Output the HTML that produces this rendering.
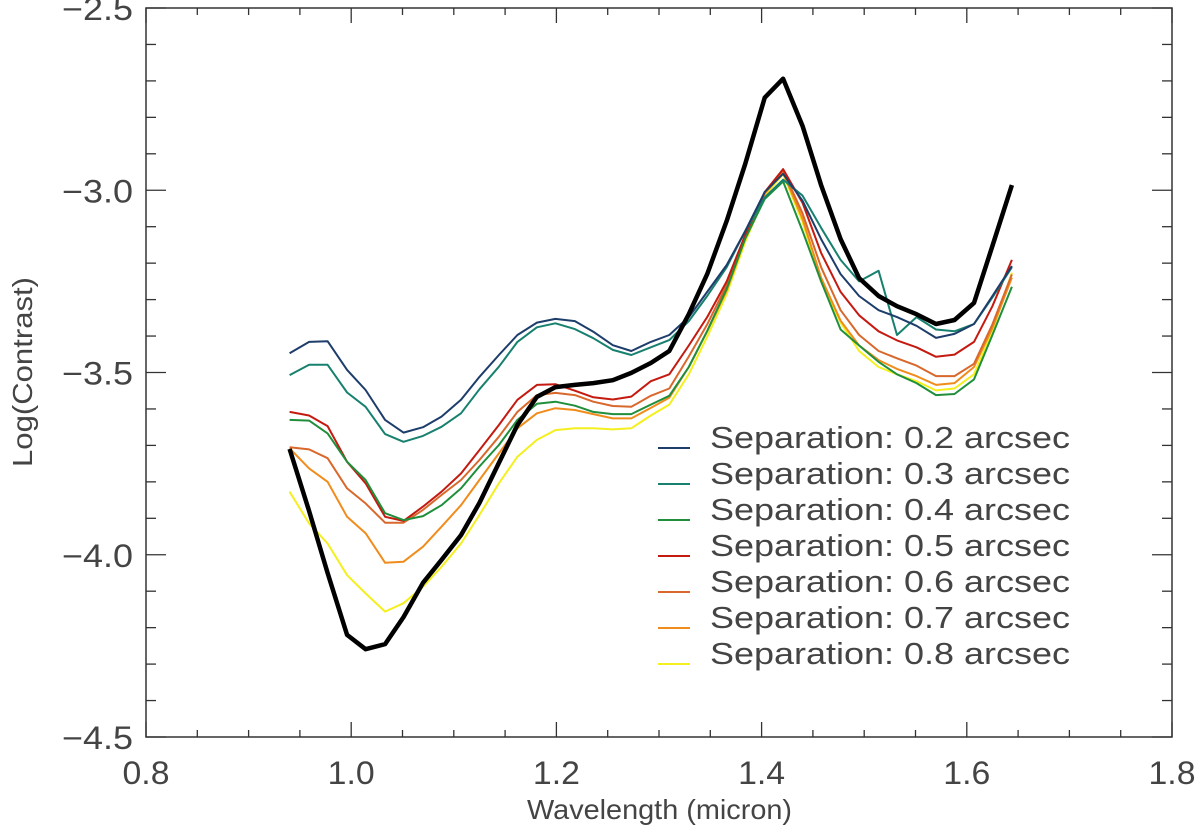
<!DOCTYPE html>
<html><head><meta charset="utf-8"><style>
html,body{margin:0;padding:0;background:#fff;}
svg{display:block;}
text{font-family:"Liberation Sans",sans-serif;fill:#444;font-weight:normal;}
</style></head><body>
<svg id="chart" width="1200" height="836" viewBox="0 0 1200 836" xmlns="http://www.w3.org/2000/svg">
<g id="axes"></g>
<g id="series"></g>
<g id="legend"></g>
</svg>
<script>
const wavelengths=[0.940,0.959,0.977,0.996,1.014,1.033,1.051,1.070,1.088,1.107,1.125,1.144,1.162,1.181,1.199,1.218,1.236,1.255,1.273,1.292,1.310,1.329,1.347,1.366,1.384,1.403,1.421,1.440,1.458,1.477,1.495,1.514,1.532,1.551,1.570,1.588,1.607,1.625,1.644];
const sep02=[-3.447,-3.416,-3.414,-3.493,-3.548,-3.630,-3.665,-3.650,-3.621,-3.575,-3.512,-3.452,-3.397,-3.363,-3.353,-3.359,-3.388,-3.425,-3.441,-3.416,-3.397,-3.348,-3.279,-3.205,-3.112,-3.005,-2.955,-3.029,-3.134,-3.230,-3.290,-3.329,-3.348,-3.372,-3.405,-3.394,-3.367,-3.290,-3.208];
const sep03=[-3.507,-3.479,-3.479,-3.555,-3.594,-3.669,-3.690,-3.674,-3.649,-3.612,-3.546,-3.484,-3.416,-3.376,-3.365,-3.381,-3.406,-3.438,-3.452,-3.431,-3.411,-3.359,-3.290,-3.211,-3.112,-3.020,-2.971,-3.015,-3.103,-3.191,-3.250,-3.221,-3.397,-3.348,-3.382,-3.387,-3.367,-3.294,-3.211];
const sep04=[-3.630,-3.632,-3.667,-3.745,-3.795,-3.886,-3.905,-3.894,-3.864,-3.818,-3.758,-3.699,-3.630,-3.586,-3.580,-3.591,-3.608,-3.614,-3.614,-3.588,-3.564,-3.485,-3.386,-3.270,-3.133,-3.024,-2.976,-3.112,-3.250,-3.382,-3.426,-3.471,-3.505,-3.529,-3.562,-3.559,-3.519,-3.397,-3.265];
const sep05=[-3.608,-3.618,-3.647,-3.745,-3.804,-3.896,-3.907,-3.868,-3.827,-3.777,-3.713,-3.644,-3.575,-3.534,-3.532,-3.550,-3.568,-3.574,-3.566,-3.524,-3.505,-3.426,-3.348,-3.250,-3.123,-3.005,-2.942,-3.035,-3.172,-3.279,-3.343,-3.387,-3.412,-3.431,-3.457,-3.451,-3.416,-3.318,-3.191];
const sep06=[-3.705,-3.711,-3.735,-3.818,-3.859,-3.912,-3.912,-3.877,-3.836,-3.795,-3.740,-3.676,-3.608,-3.562,-3.556,-3.562,-3.580,-3.592,-3.594,-3.564,-3.544,-3.456,-3.368,-3.260,-3.123,-3.005,-2.946,-3.064,-3.211,-3.329,-3.397,-3.441,-3.461,-3.481,-3.510,-3.510,-3.476,-3.368,-3.231];
const sep07=[-3.708,-3.763,-3.800,-3.896,-3.941,-4.022,-4.019,-3.978,-3.923,-3.864,-3.795,-3.722,-3.653,-3.612,-3.598,-3.603,-3.614,-3.626,-3.626,-3.597,-3.569,-3.485,-3.387,-3.275,-3.133,-3.010,-2.951,-3.079,-3.240,-3.358,-3.426,-3.466,-3.490,-3.510,-3.534,-3.529,-3.485,-3.378,-3.240];
const sep08=[-3.827,-3.914,-3.969,-4.056,-4.106,-4.156,-4.133,-4.088,-4.033,-3.969,-3.891,-3.804,-3.731,-3.685,-3.658,-3.653,-3.653,-3.656,-3.653,-3.618,-3.588,-3.505,-3.402,-3.285,-3.142,-3.015,-2.956,-3.088,-3.250,-3.363,-3.441,-3.485,-3.505,-3.524,-3.549,-3.544,-3.505,-3.387,-3.226];
const total=[-3.710,-3.880,-4.050,-4.220,-4.259,-4.245,-4.171,-4.077,-4.014,-3.946,-3.858,-3.748,-3.644,-3.567,-3.540,-3.534,-3.529,-3.521,-3.501,-3.474,-3.441,-3.340,-3.230,-3.084,-2.928,-2.746,-2.694,-2.824,-2.986,-3.134,-3.241,-3.290,-3.318,-3.340,-3.367,-3.356,-3.309,-3.153,-2.986];
const legendLabels=["Separation: 0.2 arcsec","Separation: 0.3 arcsec","Separation: 0.4 arcsec","Separation: 0.5 arcsec","Separation: 0.6 arcsec","Separation: 0.7 arcsec","Separation: 0.8 arcsec"];
const xTickLabels=["0.8","1.0","1.2","1.4","1.6","1.8"];
const yTickLabels=["-2.5","-3.0","-3.5","-4.0","-4.5"];

const NS="http://www.w3.org/2000/svg";
const L=146,R=1172,T=8,B=737;
const X0=0.8,X1=1.8,Y0=-4.5,Y1=-2.5;
function xs(v){return L+(v-X0)/(X1-X0)*(R-L);}
function ys(v){return B-(v-Y0)/(Y1-Y0)*(B-T);}
function mk(tag,attrs,parent){const e=document.createElementNS(NS,tag);for(const k in attrs)e.setAttribute(k,attrs[k]);parent.appendChild(e);return e;}
const axes=document.getElementById('axes');
const frame=mk('rect',{x:L,y:T,width:R-L,height:B-T,fill:'none',stroke:'#333','stroke-width':1.5},axes);


for(let i=0;i<=20;i++){
  const v=X0+i*0.05;const x=xs(v);const major=(i%4===0);const len=major?15:7;
  const t1=mk('line',{x1:x,x2:x,y1:B,y2:B-len,stroke:'#333','stroke-width':1.3},axes);
  
  
  const t2=mk('line',{x1:x,x2:x,y1:T,y2:T+len,stroke:'#333','stroke-width':1.3},axes);
  
  
}
xTickLabels.forEach(s=>{
  const t=mk('text',{x:xs(parseFloat(s)),y:784,'text-anchor':'middle','font-size':32,textLength:47,lengthAdjust:'spacingAndGlyphs'},axes);
  t.textContent=s;
  
  
});
for(let i=0;i<=20;i++){
  const v=Y0+i*0.1;const y=ys(v);const major=(i%5===0);const len=major?20:10;
  const t1=mk('line',{x1:L,x2:L+len,y1:y,y2:y,stroke:'#333','stroke-width':1.3},axes);
  
  
  const t2=mk('line',{x1:R,x2:R-len,y1:y,y2:y,stroke:'#333','stroke-width':1.3},axes);
  
  
}
yTickLabels.forEach(s=>{
  const t=mk('text',{x:62,y:ys(parseFloat(s))+12,'text-anchor':'start','font-size':32,textLength:71,lengthAdjust:'spacingAndGlyphs'},axes);
  t.textContent=s.replace('-','\u2212');
  
  
});
const xt=mk('text',{x:527,y:819,'font-size':28,textLength:265,lengthAdjust:'spacingAndGlyphs'},axes);
xt.textContent='Wavelength (micron)';


const yt=mk('text',{x:-95,y:0,'font-size':28,textLength:190,lengthAdjust:'spacingAndGlyphs',transform:'translate(32,372) rotate(-90)'},axes);
yt.textContent='Log(Contrast)';



const seriesList=[
 {d:sep02,c:'#1d3d6b',n:'series-sep-0-2'},
 {d:sep03,c:'#17806e',n:'series-sep-0-3'},
 {d:sep04,c:'#1f8f3c',n:'series-sep-0-4'},
 {d:sep05,c:'#c41a10',n:'series-sep-0-5'},
 {d:sep06,c:'#d8682c',n:'series-sep-0-6'},
 {d:sep07,c:'#f08c1c',n:'series-sep-0-7'},
 {d:sep08,c:'#f4ef1e',n:'series-sep-0-8'}
];
const sg=document.getElementById('series');
seriesList.slice().reverse().forEach(s=>{
  const pts=s.d.map((v,i)=>xs(wavelengths[i]).toFixed(1)+','+ys(v).toFixed(1)).join(' ');
  const p=mk('polyline',{points:pts,fill:'none',stroke:s.c,'stroke-width':2,'stroke-linejoin':'round'},sg);
  
  
});
const tp=total.map((v,i)=>xs(wavelengths[i]).toFixed(1)+','+ys(v).toFixed(1)).join(' ');
const tl=mk('polyline',{points:tp,fill:'none',stroke:'#000','stroke-width':4.5,'stroke-linejoin':'round'},sg);



const lg=document.getElementById('legend');
legendLabels.forEach((s,i)=>{
  const y=437+i*36;
  const ln=mk('line',{x1:658,x2:690,y1:y+11,y2:y+11,stroke:seriesList[i].c,'stroke-width':2},lg);
  
  
  const t=mk('text',{x:710,y:y+11,'font-size':31,textLength:360,lengthAdjust:'spacingAndGlyphs'},lg);
  t.textContent=s;
  
  
});
</script>
</body></html>
